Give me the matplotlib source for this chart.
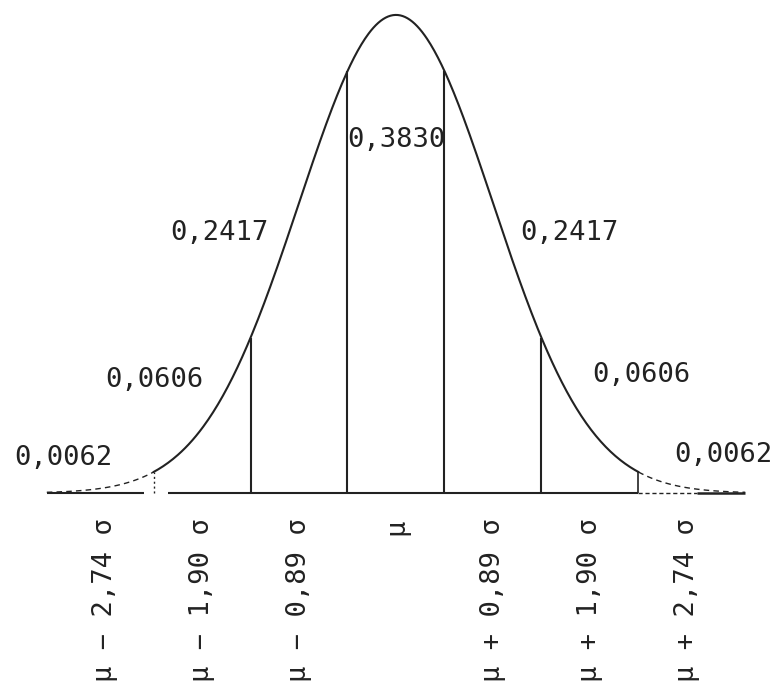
import numpy as np
import matplotlib.pyplot as plt

# class centres (standard units) and the values printed under them
centers = [-3, -2, -1, 0, 1, 2, 3]
center_labels = ['μ − 2,74 σ', 'μ − 1,90 σ', 'μ − 0,89 σ', 'μ',
                 'μ + 0,89 σ', 'μ + 1,90 σ', 'μ + 2,74 σ']

# class limits and the probability of each class
limits = [-2.5, -1.5, -0.5, 0.5, 1.5, 2.5]
probs = [0.0062, 0.0606, 0.2417, 0.3830, 0.2417, 0.0606, 0.0062]

TAIL = 3.6
INK = '#222222'
MONO = 'DejaVu Sans Mono'


def pdf(z):
    return np.exp(-z ** 2 / 2) / np.sqrt(2 * np.pi)


def fmt(p):
    return f'{p:.4f}'.replace('.', ',')


def main():
    fig = plt.figure(figsize=(7.8, 6.94), dpi=100)
    ax = fig.add_axes([0, 0, 1, 1])
    ax.set_xlim(-4.0825, 3.9588)
    ax.set_ylim(-0.1677, 0.4114)
    ax.axis('off')

    # bell curve, solid between the outer limits, dashed in the tails
    z = np.linspace(limits[0], limits[-1], 400)
    ax.plot(z, pdf(z), color=INK, lw=1.5, solid_capstyle='round')
    for a, b in [(-TAIL, limits[0]), (limits[-1], TAIL)]:
        zt = np.linspace(a, b, 60)
        ax.plot(zt, pdf(zt), color=INK, lw=1.0, ls=(0, (4, 3)))

    # base line
    ax.hlines(0, -TAIL, limits[0] - 0.1, color=INK, lw=1.5)
    ax.hlines(0, limits[0] + 0.15, limits[-1], color=INK, lw=1.5)
    ax.hlines(0, limits[-1], 3.1, color=INK, lw=1.0, ls=(0, (3, 2)))
    ax.hlines(0, 3.1, TAIL, color=INK, lw=1.8)

    # class limits
    for k, x in enumerate(limits):
        if k == 0:
            ax.vlines(x, 0, pdf(x), color=INK, lw=1.0, ls=(0, (1.5, 2)))
        elif k == len(limits) - 1:
            ax.vlines(x, 0, pdf(x), color=INK, lw=1.2)
        else:
            ax.vlines(x, 0, pdf(x), color=INK, lw=1.5)

    # probability of each class
    prob_pos = [(-3.43, 0.0234), (-2.49, 0.0885), (-1.82, 0.2111),
                (0.0, 0.2888), (1.79, 0.2111), (2.53, 0.0926),
                (3.38, 0.0259)]
    for p, (x, y) in zip(probs, prob_pos):
        ax.text(x, y, fmt(p), ha='center', va='baseline',
                fontsize=19.5, family=MONO, color=INK)

    # centre of each class
    for c, lab in zip(centers, center_labels):
        ax.text(c, -0.021, lab, rotation=90, ha='center', va='top',
                fontsize=19.5, family=MONO, color=INK)

    fig.savefig('out.png', dpi=100)


if __name__ == '__main__':
    main()
